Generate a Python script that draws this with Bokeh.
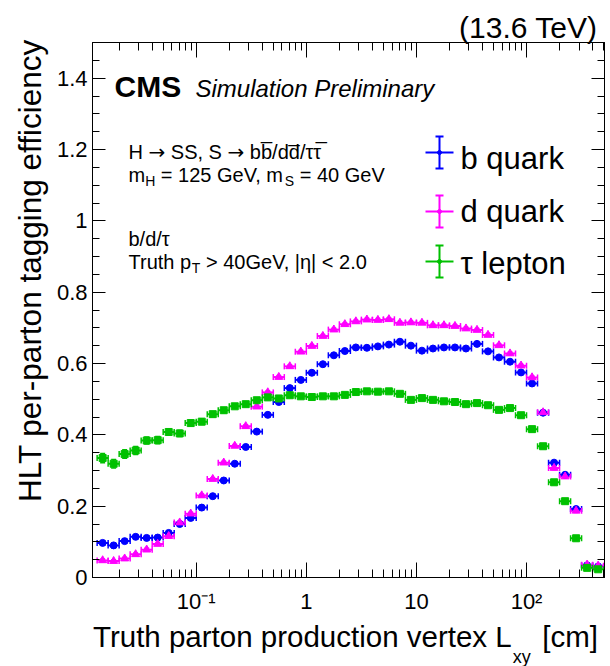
import math
from bokeh.plotting import figure
from bokeh.models import (Range1d, FixedTicker, LinearAxis, LogAxis, Label,
                          Whisker, ColumnDataSource, TeeHead, Title)
from bokeh.embed import file_html
from bokeh.resources import INLINE

# ---------------- data ----------------
lxy_cm = [0.01413, 0.01778, 0.02239, 0.02818, 0.03548, 0.04467, 0.05623, 0.07079,
          0.08913, 0.1122, 0.1413, 0.1778, 0.2239, 0.2818, 0.3548, 0.4467, 0.5623,
          0.7079, 0.8913, 1.122, 1.413, 1.778, 2.239, 2.818, 3.548, 4.467, 5.623,
          7.079, 8.913, 11.22, 14.13, 17.78, 22.39, 28.18, 35.48, 44.67, 56.23,
          70.79, 89.13, 112.2, 141.3, 177.8, 223.9, 281.8, 354.8, 446.7]
bin_half_width_log10 = 0.05

b_quark = [0.097, 0.090, 0.102, 0.114, 0.111, 0.112, 0.125, 0.150, 0.167, 0.196,
           0.228, 0.272, 0.319, 0.366, 0.409, 0.456, 0.492, 0.531, 0.554, 0.574,
           0.598, 0.623, 0.635, 0.645, 0.644, 0.648, 0.653, 0.661, 0.650, 0.636,
           0.642, 0.645, 0.645, 0.642, 0.655, 0.634, 0.617, 0.605, 0.575, 0.544,
           0.462, 0.322, 0.288, 0.192, 0.034, 0.031]
b_err = [0.006, 0.006, 0.006, 0.006, 0.006, 0.006, 0.006, 0.006, 0.006, 0.006,
         0.005, 0.005, 0.005, 0.005, 0.005, 0.005, 0.005, 0.005, 0.005, 0.005,
         0.004, 0.004, 0.004, 0.004, 0.004, 0.004, 0.004, 0.004, 0.004, 0.004,
         0.004, 0.004, 0.004, 0.004, 0.004, 0.004, 0.004, 0.005, 0.005, 0.005,
         0.005, 0.005, 0.005, 0.005, 0.004, 0.004]

d_quark = [0.048, 0.046, 0.053, 0.065, 0.078, 0.094, 0.116, 0.154, 0.179, 0.230,
           0.276, 0.322, 0.369, 0.424, 0.479, 0.519, 0.562, 0.592, 0.633, 0.649,
           0.677, 0.695, 0.710, 0.718, 0.723, 0.722, 0.724, 0.714, 0.715, 0.714,
           0.707, 0.707, 0.705, 0.698, 0.694, 0.680, 0.651, 0.628, 0.594, 0.561,
           0.463, 0.307, 0.283, 0.187, 0.036, 0.033]
d_err = [0.004, 0.004, 0.004, 0.004, 0.004, 0.004, 0.004, 0.004, 0.004, 0.004,
         0.004, 0.004, 0.004, 0.004, 0.004, 0.004, 0.004, 0.004, 0.004, 0.004,
         0.004, 0.004, 0.004, 0.004, 0.004, 0.004, 0.004, 0.004, 0.004, 0.004,
         0.004, 0.004, 0.004, 0.004, 0.004, 0.004, 0.004, 0.004, 0.004, 0.004,
         0.005, 0.005, 0.005, 0.005, 0.004, 0.004]

tau_lepton = [0.335, 0.319, 0.346, 0.356, 0.384, 0.385, 0.408, 0.404, 0.433, 0.437,
              0.458, 0.469, 0.480, 0.486, 0.497, 0.505, 0.502, 0.511, 0.508, 0.506,
              0.508, 0.508, 0.512, 0.520, 0.522, 0.521, 0.522, 0.515, 0.498, 0.503,
              0.498, 0.494, 0.492, 0.486, 0.489, 0.483, 0.470, 0.475, 0.455, 0.416,
              0.368, 0.267, 0.214, 0.110, 0.027, 0.023]
tau_err = [0.013, 0.012, 0.012, 0.011, 0.010, 0.010, 0.009, 0.009, 0.008, 0.008,
           0.007, 0.007, 0.006, 0.006, 0.005, 0.005, 0.005, 0.005, 0.005, 0.005,
           0.005, 0.005, 0.005, 0.005, 0.005, 0.005, 0.005, 0.005, 0.005, 0.005,
           0.005, 0.005, 0.005, 0.005, 0.005, 0.005, 0.005, 0.005, 0.005, 0.006,
           0.006, 0.006, 0.006, 0.006, 0.005, 0.005]

y_ticks = [0.0, 0.2, 0.4, 0.6, 0.8, 1.0, 1.2, 1.4]
y_tick_labels = ["0", "0.2", "0.4", "0.6", "0.8", "1", "1.2", "1.4"]
x_ticks = [0.1, 1.0, 10.0, 100.0]
x_tick_labels = ["10\u207b\u00b9", "1", "10", "10\u00b2"]

series_names = ["b quark", "d quark", "\u03c4 lepton"]
series_colors = ["#0000ff", "#ff00ff", "#00c000"]
series_markers = ["circle", "triangle", "square"]
series_sizes = [7, 8, 7]

# ---------------- layout ----------------
W, H = 610, 666
FL, FR, FT, FB = 92, 604, 42, 577          # frame edges in pixels
LOG_LO, LOG_HI = -1.942, 2.708
Y_LO, Y_HI = 0.0, 1.5
FONT = "Liberation Sans"
ARROW_FONT = "DejaVu Sans"
BASE_FIX = 0.30          # empirical baseline correction (fraction of font size)
NB = "\u00a0"


def dx(px):
    return 10 ** (LOG_LO + (px - FL) / (FR - FL) * (LOG_HI - LOG_LO))


def dy(py):
    return Y_LO + (FB - py) / (FB - FT) * (Y_HI - Y_LO)


AW = {' ': 278, NB: 278, '(': 333, ')': 333, ',': 278, '-': 333,
      '.': 278, '/': 278, '<': 584, '=': 584, '>': 584, '[': 278, ']': 278,
      '|': 260, 'G': 778, 'H': 722, 'L': 556, 'S': 667, 'T': 611, 'V': 667,
      'a': 556, 'b': 556, 'c': 500, 'd': 556, 'e': 556, 'f': 278, 'g': 556,
      'h': 556, 'i': 222, 'k': 500, 'l': 222, 'm': 833, 'n': 556, 'o': 556,
      'p': 556, 'q': 556, 'r': 333, 's': 500, 't': 278, 'u': 556, 'v': 500,
      'x': 500, 'y': 500, '\u03c4': 450, '\u03b7': 556, '\u0305': 0}
AW_ARROW = {'\u2192': 838}


def tw(s, size, font=FONT):
    table = AW_ARROW if font == ARROW_FONT else AW
    return sum(table.get(c, 556) for c in s) / 1000.0 * size


p = figure(width=W, height=H, x_axis_type="log", title=None,
           x_range=Range1d(10 ** LOG_LO, 10 ** LOG_HI),
           y_range=Range1d(Y_LO, Y_HI),
           output_backend="svg", toolbar_location=None,
           min_border_left=FL, min_border_right=W - FR,
           min_border_top=FT, min_border_bottom=H - FB)
p.background_fill_color = "white"
p.border_fill_color = "white"
p.outline_line_color = "black"
p.outline_line_width = 1
p.xgrid.visible = False
p.ygrid.visible = False

x_minor = []
for dec in [0.01, 0.1, 1.0, 10.0, 100.0]:
    for m in range(2, 10):
        x_minor.append(dec * m)
y_minor = [i * 0.05 for i in range(0, 31)]

xt = FixedTicker(ticks=x_ticks, minor_ticks=x_minor)
yt = FixedTicker(ticks=y_ticks, minor_ticks=y_minor)


def style_axis(ax, ticker, maj, mnr, labels, size="22px"):
    ax.ticker = ticker
    ax.major_tick_in = maj
    ax.major_tick_out = 0
    ax.minor_tick_in = mnr
    ax.minor_tick_out = 0
    ax.axis_line_color = "black"
    ax.major_tick_line_color = "black"
    ax.minor_tick_line_color = "black"
    ax.major_label_text_font = FONT
    ax.major_label_text_color = "black"
    ax.major_label_text_font_size = size
    ax.major_label_overrides = dict(zip(ticker.ticks, labels))


xa = p.xaxis[0]
style_axis(xa, xt, 15, 8, x_tick_labels)
xa.major_label_standoff = 11
ya = p.yaxis[0]
style_axis(ya, yt, 13, 7, y_tick_labels)
ya.major_label_standoff = 5
# y-axis title (padded with no-break spaces so it sits toward the top)
ya.axis_label = NB * 9 + "HLT per-parton tagging efficiency"
ya.axis_label_text_font = FONT
ya.axis_label_text_font_size = "31.5px"
ya.axis_label_text_font_style = "normal"
ya.axis_label_text_color = "black"
ya.axis_label_standoff = 6

top_ax = LogAxis()
style_axis(top_ax, xt, 15, 8, ["" for _ in x_ticks], size="1px")
top_ax.major_label_standoff = 6
p.add_layout(top_ax, "above")
right_ax = LinearAxis()
style_axis(right_ax, yt, 13, 7, ["" for _ in y_ticks], size="1px")
right_ax.major_label_standoff = 0
p.add_layout(right_ax, "right")

# energy label above the frame
p.add_layout(Title(text="(13.6 TeV)", align="right", offset=7,
                   text_font=FONT, text_font_size="30px",
                   text_font_style="normal", text_color="black",
                   standoff=-2), "above")

# x-axis title (main text + subscript band)
x_title_start = 97.5
x_title_size = 29.5
main_txt = "Truth parton production vertex L"
p.add_layout(Title(text=main_txt + NB * 3 + "\u2009[cm]", align="left",
                   offset=x_title_start - FL - 5, text_font=FONT,
                   text_font_size=f"{x_title_size}px", text_font_style="normal",
                   text_color="black", standoff=3), "below")
p.add_layout(Title(text="xy", align="left",
                   offset=x_title_start - FL - 5 + tw(main_txt, x_title_size),
                   text_font=FONT, text_font_size="18px",
                   text_font_style="normal", text_color="black",
                   standoff=-20), "below")

# ---------------- data marks ----------------
f = 10 ** bin_half_width_log10
for vals, errs, col, mk, sz in zip([b_quark, d_quark, tau_lepton],
                                   [b_err, d_err, tau_err],
                                   series_colors, series_markers, series_sizes):
    src = ColumnDataSource(dict(
        x=lxy_cm, y=vals,
        xlo=[v / f for v in lxy_cm], xhi=[v * f for v in lxy_cm],
        ylo=[v - e for v, e in zip(vals, errs)],
        yhi=[v + e for v, e in zip(vals, errs)]))
    p.add_layout(Whisker(source=src, base="y", lower="xlo", upper="xhi",
                         dimension="width", line_color=col, line_width=2,
                         lower_head=TeeHead(size=6, line_color=col, line_width=1.5),
                         upper_head=TeeHead(size=6, line_color=col, line_width=1.5)))
    p.add_layout(Whisker(source=src, base="x", lower="ylo", upper="yhi",
                         dimension="height", line_color=col, line_width=1.5,
                         lower_head=TeeHead(size=5, line_color=col, line_width=1.5),
                         upper_head=TeeHead(size=5, line_color=col, line_width=1.5)))
    p.scatter("x", "y", source=src, marker=mk, size=sz, fill_color=col,
              line_color=col)


# ---------------- texts inside the frame ----------------
def fix_spaces(t):
    n1 = len(t) - len(t.lstrip(" "))
    n2 = len(t) - len(t.rstrip(" "))
    core = t.strip(" ")
    return NB * n1 + core + NB * n2


def lab(text, px, py, size, style="normal", align="left", font=FONT):
    size = int(round(size))
    py = py - BASE_FIX * size
    p.add_layout(Label(x=dx(px), y=dy(py), text=fix_spaces(text),
                       text_font=font, text_font_size=f"{size}px",
                       text_font_style=style, text_color="black",
                       text_align=align, text_baseline="alphabetic"))


def run(segs, px, py):
    # segs: (text, size, drop[, font])
    x = px
    for seg in segs:
        t, s, d = seg[:3]
        fnt = seg[3] if len(seg) > 3 else FONT
        s = int(round(s))
        lab(t, x, py + d, s, font=fnt)
        x += tw(t, s, fnt)


lab("CMS", 114, 95, 30, style="bold")
lab("Simulation Preliminary", 195, 95, 24, style="italic")

run([("H ", 20, 0), ("\u2192", 20, 0, ARROW_FONT), (" SS, S ", 20, 0),
     ("\u2192", 20, 0, ARROW_FONT),
     (" bb\u0305/dd\u0305/\u03c4\u03c4\u0305", 20, 0)], 128, 157)
run([("m", 20, 0), ("H", 14, 5), (" = 125 GeV, m", 20, 0),
     ("S", 14, 5), (" = 40 GeV", 20, 0)], 128, 180)
lab("b/d/\u03c4", 128, 244, 20)
run([("Truth p", 20, 0), ("T", 14, 5),
     (" > 40GeV, |\u03b7| < 2.0", 20, 0)], 128, 267)

# legend
leg_y = [152, 211, 261]
leg_base = [167, 220, 272]
leg_x = 439
for name, col, yc, yb in zip(series_names, series_colors, leg_y, leg_base):
    half_v = 16
    p.segment(x0=[dx(leg_x)], y0=[dy(yc - half_v)], x1=[dx(leg_x)],
              y1=[dy(yc + half_v)], line_color=col, line_width=2)
    p.segment(x0=[dx(leg_x - 14)], y0=[dy(yc)], x1=[dx(leg_x + 14)],
              y1=[dy(yc)], line_color=col, line_width=2)
    for yy in (yc - half_v, yc + half_v):
        p.segment(x0=[dx(leg_x - 4)], y0=[dy(yy)], x1=[dx(leg_x + 4)],
                  y1=[dy(yy)], line_color=col, line_width=2)
    p.scatter(x=[dx(leg_x)], y=[dy(yc)], size=4, color=col)
    lab(name, 460, yb, 31)

open("out.html", "w").write(file_html(p, INLINE))
